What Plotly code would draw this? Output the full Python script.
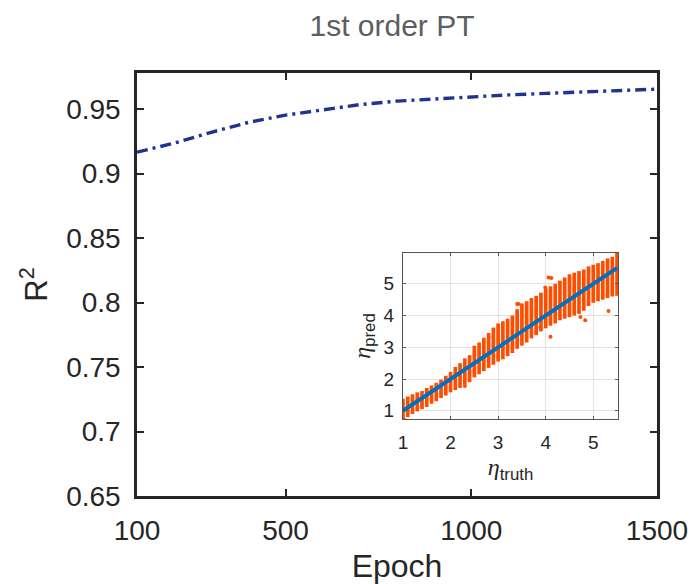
import plotly.graph_objects as go

# Main curve
epochs = [100, 200, 300, 400, 500, 600, 700, 800, 900, 1000, 1100, 1200, 1300, 1400, 1500]
r2 = [0.9166, 0.9236, 0.9320, 0.9397, 0.9453, 0.9495, 0.9535, 0.9562, 0.9580, 0.9596,
      0.9610, 0.9622, 0.9634, 0.9645, 0.9655]

x_ticks = [100, 500, 1000, 1500]
y_ticks = [0.65, 0.70, 0.75, 0.80, 0.85, 0.90, 0.95]
y_tick_labels = ["0.65", "0.7", "0.75", "0.8", "0.85", "0.9", "0.95"]

# Inset: predicted vs truth spread per truth column
truth = [1.0, 1.1, 1.2, 1.3, 1.4, 1.5, 1.6, 1.7, 1.8, 1.9,
         2.0, 2.1, 2.2, 2.3, 2.4, 2.5, 2.6, 2.7, 2.8, 2.9,
         3.0, 3.1, 3.2, 3.3, 3.4, 3.5, 3.6, 3.7, 3.8, 3.9,
         4.0, 4.1, 4.2, 4.3, 4.4, 4.5, 4.6, 4.7, 4.8, 4.9,
         5.0, 5.1, 5.2, 5.3, 5.4, 5.5]
pred_low = [0.72, 0.80, 0.90, 0.98, 1.05, 1.12, 1.22, 1.30, 1.40, 1.48,
            1.58, 1.65, 1.72, 1.82, 1.90, 2.05, 2.15, 2.25, 2.35, 2.45,
            2.55, 2.62, 2.72, 2.82, 2.95, 3.05, 3.15, 3.28, 3.38, 3.50,
            3.60, 3.68, 3.75, 3.85, 3.90, 3.95, 4.00, 4.05, 4.15, 4.30,
            4.40, 4.45, 4.50, 4.55, 4.60, 4.62]
pred_high = [1.38, 1.45, 1.52, 1.58, 1.62, 1.72, 1.80, 1.88, 1.98, 2.10,
             2.22, 2.38, 2.50, 2.65, 2.75, 3.05, 3.15, 3.30, 3.45, 3.62,
             3.75, 3.82, 3.90, 4.00, 4.20, 4.38, 4.45, 4.55, 4.62, 4.72,
             4.85, 4.92, 5.00, 5.10, 5.20, 5.30, 5.35, 5.40, 5.45, 5.55,
             5.60, 5.65, 5.72, 5.80, 5.85, 5.95]
out_truth = [3.40, 3.43, 3.89, 3.99, 4.06, 4.10, 4.12, 4.73, 4.83, 5.32, 5.50, 2.30, 1.05]
out_pred = [4.36, 4.36, 3.62, 4.88, 5.20, 3.33, 5.18, 3.95, 3.85, 4.14, 5.97, 1.78, 0.70]
fit_x = [1.0, 5.5]
fit_y = [1.0, 5.5]

inset_ticks = [1, 2, 3, 4, 5]

FONT = "Liberation Sans, Arial, sans-serif"
AX = "#262626"
ORANGE = "#FF4D00"

W, H = 692, 584

seg_x, seg_y = [], []
for t, lo, hi in zip(truth, pred_low, pred_high):
    seg_x += [t, t, None]
    seg_y += [lo, hi, None]

fig = go.Figure()
fig.add_trace(go.Scatter(x=epochs, y=r2, mode="lines",
                         line=dict(color="#1F3391", width=3.4, dash="11px,5px,3px,5px"),
                         xaxis="x", yaxis="y", showlegend=False))
fig.add_trace(go.Scatter(x=seg_x, y=seg_y, mode="lines",
                         line=dict(color=ORANGE, width=3.7),
                         xaxis="x2", yaxis="y2", showlegend=False))
fig.add_trace(go.Scatter(x=out_truth, y=out_pred, mode="markers",
                         marker=dict(color=ORANGE, size=4),
                         xaxis="x2", yaxis="y2", showlegend=False))
fig.add_trace(go.Scatter(x=fit_x, y=fit_y, mode="lines",
                         line=dict(color="#0072BD", width=4),
                         xaxis="x2", yaxis="y2", showlegend=False))

eta = "<span style='font-family:Liberation Serif;font-style:italic'>η</span>"

fig.update_layout(
    width=W, height=H,
    margin=dict(l=137, r=35, t=73, b=88, autoexpand=False),
    paper_bgcolor="white", plot_bgcolor="white",
    font=dict(family=FONT, color=AX),
    title=dict(text="1st order PT", x=392 / W, xanchor="center",
               y=1 - 25 / H, yanchor="middle", automargin=False,
               font=dict(size=30, color="#5E5E5E", family=FONT)),
    xaxis=dict(domain=[0, 1], range=[100, 1500], tickvals=x_ticks,
               ticktext=[str(v) for v in x_ticks], automargin=False,
               ticks="inside", ticklen=7, tickwidth=2, tickcolor=AX,
               showline=True, linewidth=2.5, linecolor=AX, mirror="ticks",
               showgrid=False, zeroline=False, ticklabelstandoff=8,
               tickfont=dict(size=28, color=AX),
               title=dict(text="Epoch", font=dict(size=32, color=AX), standoff=10)),
    yaxis=dict(domain=[0, 1], range=[0.65, 0.978], tickvals=y_ticks,
               ticktext=y_tick_labels, automargin=False,
               ticks="inside", ticklen=7, tickwidth=2, tickcolor=AX,
               showline=True, linewidth=2.5, linecolor=AX, mirror="ticks",
               showgrid=False, zeroline=False, ticklabelstandoff=8,
               tickfont=dict(size=28, color=AX),
               title=dict(text="R<sup>2</sup>", font=dict(size=31, color=AX), standoff=10)),
    xaxis2=dict(domain=[0.5115, 0.925], anchor="y2", range=[1, 5.52], automargin=False,
                tickvals=inset_ticks, ticks="inside", ticklen=3, tickcolor="#555555",
                showline=True, linewidth=1.3, linecolor="#555555", mirror="ticks",
                showgrid=True, gridcolor="#E3E3E3", gridwidth=1.3, zeroline=False,
                ticklabelstandoff=6,
                tickfont=dict(size=19, color=AX),
                title=dict(text=eta + "<sub>truth</sub>",
                           font=dict(size=24, color=AX), standoff=6)),
    yaxis2=dict(domain=[0.182, 0.5745], anchor="x2", range=[0.74, 5.97], automargin=False,
                tickvals=inset_ticks, ticks="inside", ticklen=3, tickcolor="#555555",
                showline=True, linewidth=1.3, linecolor="#555555", mirror="ticks",
                showgrid=True, gridcolor="#E3E3E3", gridwidth=1.3, zeroline=False,
                ticklabelstandoff=4,
                tickfont=dict(size=19, color=AX),
                title=dict(text=eta + "<sub>pred</sub>",
                           font=dict(size=24, color=AX), standoff=6)),
)

fig.write_html("out.html",
               config={"displayModeBar": False},
               post_script="document.body.style.margin='0';document.body.style.overflow='hidden';")
